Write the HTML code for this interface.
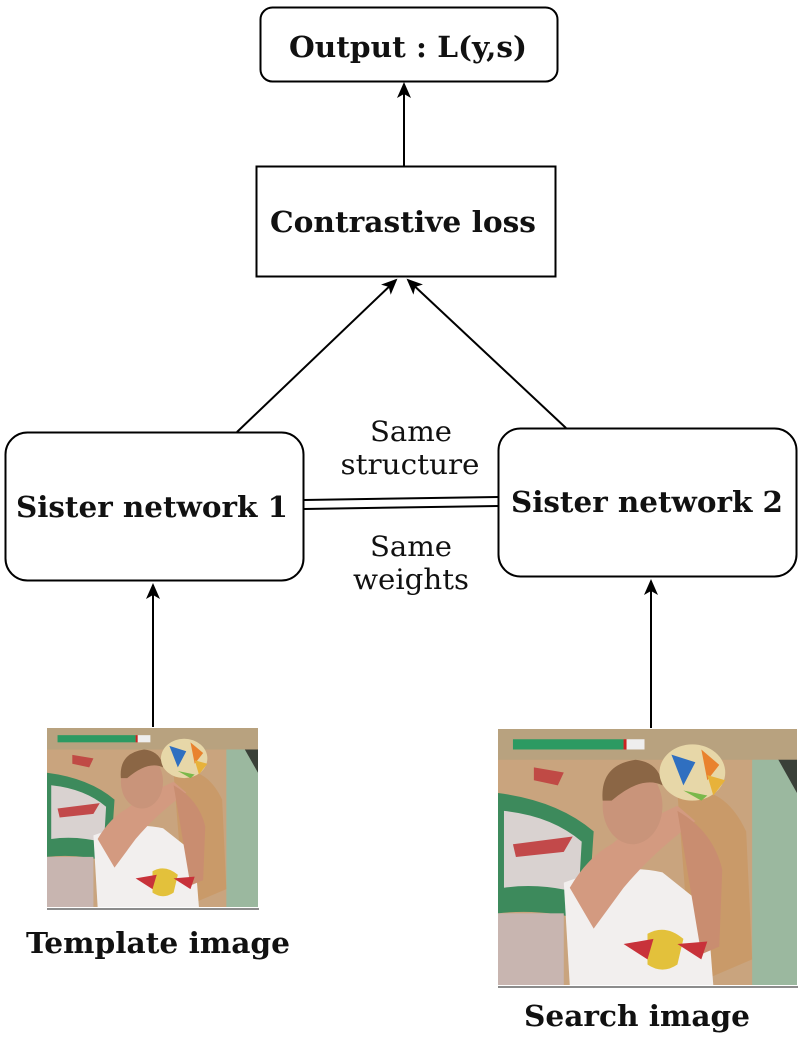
<!DOCTYPE html>
<html><head><meta charset="utf-8"><style>
html,body{margin:0;padding:0;background:#fff;}
svg{display:block;}
text{font-family:"DejaVu Serif Condensed","DejaVu Serif","Liberation Serif",serif;font-stretch:condensed;fill:#111;}
.b{font-weight:bold;font-size:29px;}
.n{font-size:28px;}
</style></head><body>
<svg width="805" height="1037" viewBox="0 0 805 1037" xmlns="http://www.w3.org/2000/svg">
<defs>
<marker id="ah" markerWidth="16" markerHeight="16" refX="14" refY="7" orient="auto" markerUnits="userSpaceOnUse">
<path d="M0,0 L16,7 L0,14 L4,7 Z" fill="#000"/>
</marker>
<symbol id="img" viewBox="0 0 100 100" preserveAspectRatio="none">
<rect width="100" height="100" fill="#c9a47e"/>
<rect x="85" y="0" width="15" height="100" fill="#9bb89f"/>
<polygon points="88,0 100,0 100,25" fill="#3a4038"/>
<rect x="0" y="0" width="100" height="12" fill="#b8a27f"/>
<path d="M0,25 Q20,28 32,40 L30,75 Q15,70 0,72 Z" fill="#3d8a5c"/>
<path d="M2,32 Q18,34 28,44 L27,64 Q14,60 2,62 Z" fill="#d9d2d0"/>
<path d="M5,45 L25,42 L22,48 L6,50 Z" fill="#c2494a"/>
<rect x="0" y="72" width="22" height="28" fill="#c8b5b0"/>
<path d="M12,15 L22,17 L20,22 L12,20 Z" fill="#c04a45"/>
<path d="M60,25 Q75,20 83,40 L85,90 L65,100 Z" fill="#c9955c" opacity="0.6"/>
<path d="M22,60 Q40,52 55,56 L70,70 L72,100 L24,100 Z" fill="#f2efee"/>
<path d="M24,62 Q30,50 38,45 Q45,38 60,30 L66,36 Q52,48 42,62 L32,78 Z" fill="#d39a80"/>
<path d="M60,32 Q72,40 75,55 L74,85 L68,88 L64,60 Z" fill="#c98d70"/>
<ellipse cx="45" cy="30" rx="10" ry="15" fill="#c9947a"/>
<path d="M35,28 Q34,14 46,12 Q54,13 55,22 Q48,18 38,28 Z" fill="#8b6645"/>
<path d="M50,80 Q56,76 62,82 L60,92 Q55,96 50,92 Z" fill="#e3c13b"/>
<path d="M42,84 L52,82 L50,90 Z" fill="#c8323a"/>
<path d="M60,84 L70,83 L68,90 Z" fill="#c8323a"/>
<circle cx="65" cy="17" r="11" fill="#e7d7a8"/>
<path d="M58,10 L66,13 L62,22 Z" fill="#2f6fc0"/>
<path d="M68,8 L74,14 L70,20 Z" fill="#e9822e"/>
<path d="M62,24 L70,26 L68,28 Z" fill="#7ab84a"/>
<path d="M70,18 L76,20 L72,26 Z" fill="#e7b23a"/>
<rect x="5" y="4" width="37" height="4" fill="#2c9a62"/>
<rect x="42" y="4" width="1" height="4" fill="#c22"/>
<rect x="43" y="4" width="6" height="4" fill="#eee"/>
</symbol>
</defs>

<rect x="260.5" y="7.5" width="297" height="74" rx="12" fill="#fff" stroke="#000" stroke-width="2"/>
<text class="b" x="408" y="57" text-anchor="middle" textLength="238" lengthAdjust="spacingAndGlyphs">Output : L(y,s)</text>

<line x1="404" y1="166" x2="404" y2="84" stroke="#000" stroke-width="2" marker-end="url(#ah)"/>

<rect x="256.5" y="166.5" width="299" height="110" fill="#fff" stroke="#000" stroke-width="2"/>
<text class="b" x="403" y="232" text-anchor="middle" textLength="266" lengthAdjust="spacingAndGlyphs">Contrastive loss</text>

<line x1="237" y1="432" x2="396" y2="280" stroke="#000" stroke-width="2" marker-end="url(#ah)"/>
<line x1="566" y1="428" x2="408" y2="280" stroke="#000" stroke-width="2" marker-end="url(#ah)"/>

<rect x="5.5" y="432.5" width="298" height="148" rx="22" fill="#fff" stroke="#000" stroke-width="2"/>
<text class="b" x="152" y="517" text-anchor="middle" textLength="272" lengthAdjust="spacingAndGlyphs">Sister network 1</text>
<rect x="498.5" y="428.5" width="298" height="148" rx="22" fill="#fff" stroke="#000" stroke-width="2"/>
<text class="b" x="647" y="512" text-anchor="middle" textLength="272" lengthAdjust="spacingAndGlyphs">Sister network 2</text>

<line x1="304" y1="500" x2="498" y2="497" stroke="#000" stroke-width="2"/>
<line x1="304" y1="509" x2="498" y2="506" stroke="#000" stroke-width="2"/>

<text class="n" x="411" y="441" text-anchor="middle" textLength="82" lengthAdjust="spacingAndGlyphs">Same</text>
<text class="n" x="410" y="474" text-anchor="middle" textLength="139" lengthAdjust="spacingAndGlyphs">structure</text>
<text class="n" x="411" y="556" text-anchor="middle" textLength="82" lengthAdjust="spacingAndGlyphs">Same</text>
<text class="n" x="411" y="589" text-anchor="middle" textLength="116" lengthAdjust="spacingAndGlyphs">weights</text>

<line x1="153" y1="727" x2="153" y2="585" stroke="#000" stroke-width="2" marker-end="url(#ah)"/>
<line x1="651" y1="728" x2="651" y2="581" stroke="#000" stroke-width="2" marker-end="url(#ah)"/>

<use href="#img" x="47" y="728" width="211" height="179"/>
<line x1="47" y1="909" x2="259" y2="909" stroke="#666" stroke-width="1.5"/>
<text class="b" x="158" y="953" text-anchor="middle" textLength="264" lengthAdjust="spacingAndGlyphs">Template image</text>

<use href="#img" x="498" y="729" width="299" height="256"/>
<line x1="498" y1="987" x2="798" y2="987" stroke="#666" stroke-width="1.5"/>
<text class="b" x="637" y="1026" text-anchor="middle" textLength="226" lengthAdjust="spacingAndGlyphs">Search image</text>
</svg>
</body></html>
